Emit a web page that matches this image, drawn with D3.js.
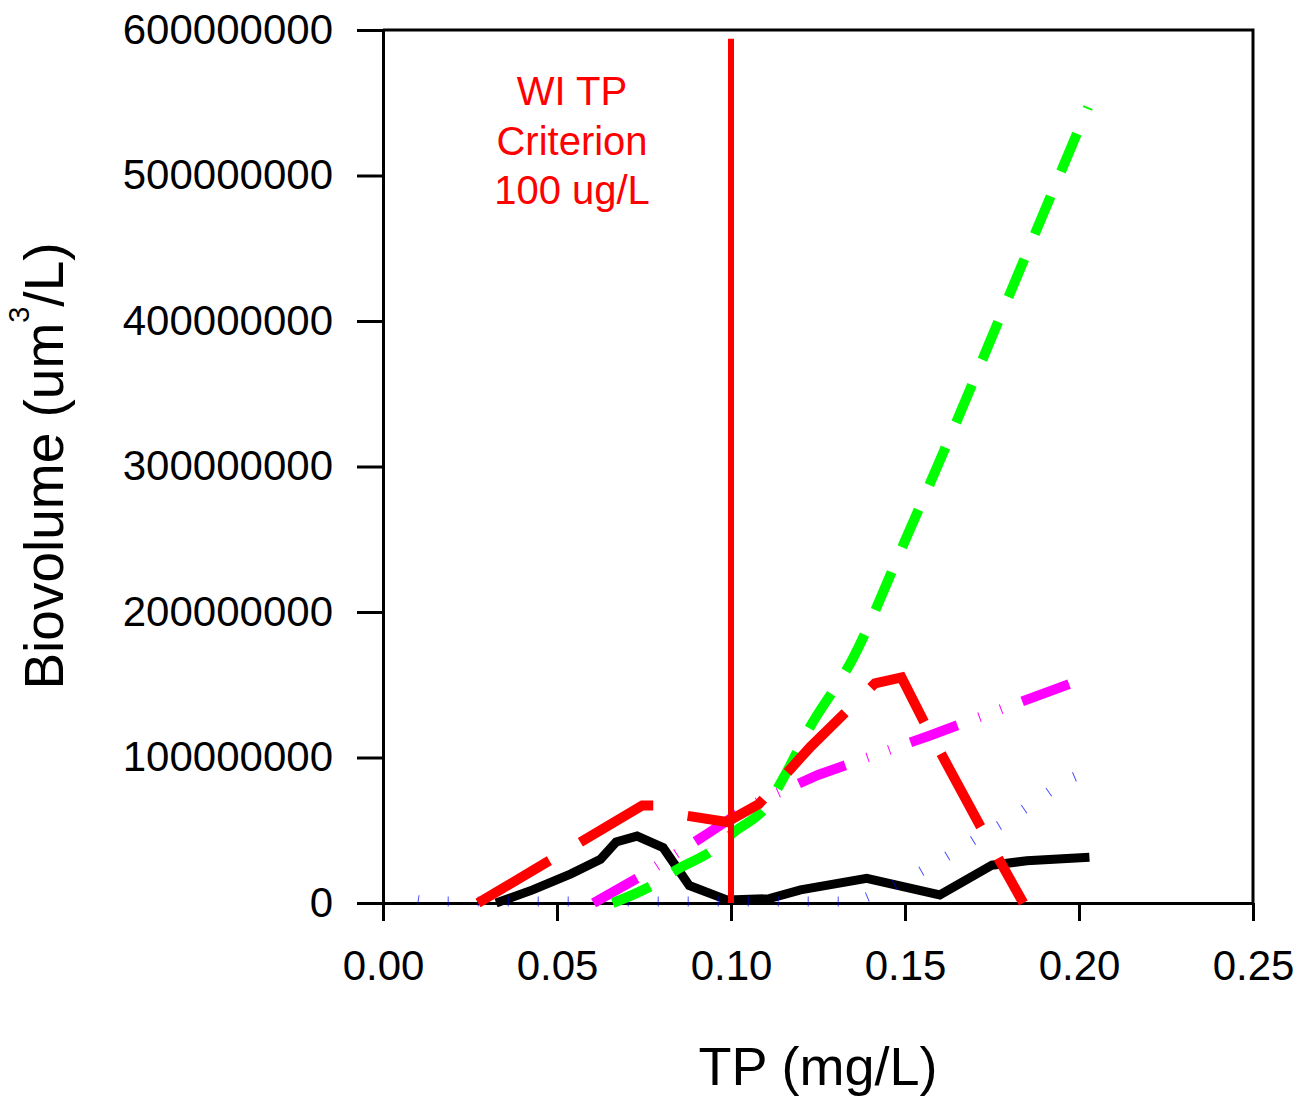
<!DOCTYPE html>
<html>
<head>
<meta charset="utf-8">
<script src="https://cdn.jsdelivr.net/npm/d3@7"></script>
<style>
  body { margin: 0; background: #fff; }
  svg { display: block; font-family: Arial, "Liberation Sans", sans-serif; }
</style>
</head>
<body>
<svg width="1299" height="1101"></svg>
<script>
// data (TP in mg/L, biovolume in um3/L)
const blackTP  = [0.0325, 0.043, 0.054, 0.0625, 0.067, 0.073, 0.0805, 0.088, 0.099, 0.111, 0.12, 0.139, 0.160, 0.175, 0.185, 0.203];
const blackBV  = [0, 9e6, 20e6, 30e6, 42e6, 46e6, 38e6, 12e6, 2e6, 3e6, 9e6, 17e6, 5.5e6, 26e6, 29e6, 31.5e6];

const blueTP   = [0.010, 0.013, 0.136, 0.145, 0.154, 0.162, 0.171, 0.179, 0.187, 0.196, 0.202];
const blueBV   = [2e6, 1e6, 1e6, 10e6, 21e6, 32e6, 45e6, 56e6, 69e6, 84e6, 90e6];

const magentaTP = [0.0605, 0.0745, 0.0935, 0.1055, 0.125, 0.157, 0.2023];
const magentaBV = [0, 19e6, 48e6, 67e6, 88e6, 115e6, 155e6];

const greenTP  = [0.066, 0.078, 0.0845, 0.0945, 0.101, 0.110, 0.116, 0.122, 0.135, 0.15, 0.165, 0.18, 0.2026];
const greenBV  = [0, 13e6, 23e6, 36e6, 49e6, 66e6, 90e6, 118e6, 168e6, 249e6, 332e6, 418e6, 547e6];

const redTP    = [0.0273, 0.0745, 0.078, 0.0873, 0.0988, 0.108, 0.1227, 0.1414, 0.149, 0.156, 0.1716, 0.184];
const redBV    = [0, 67e6, 67e6, 60e6, 55.7e6, 68e6, 107e6, 151e6, 155e6, 122e6, 53e6, 0];

const criterionTP = 0.10;
const criterionTop = 594e6;
const criterionText = ['WI TP', 'Criterion', '100 ug/L'];

const xTicks = [0, 0.05, 0.10, 0.15, 0.20, 0.25];
const yTicks = [0, 1e8, 2e8, 3e8, 4e8, 5e8, 6e8];

const svg = d3.select('svg');
const margin = { top: 30, left: 383 };
const innerWidth = 870, innerHeight = 873;

const x = d3.scaleLinear().domain([0, 0.25]).range([0, innerWidth]);
const y = d3.scaleLinear().domain([0, 6e8]).range([innerHeight, 0]);

const g = svg.append('g').attr('transform', `translate(${margin.left},${margin.top})`);

// axes
const yAxis = g.append('g')
    .call(d3.axisLeft(y).tickValues(yTicks).tickFormat(d3.format('d')).tickSize(26).tickSizeOuter(0).tickPadding(24));
const xAxis = g.append('g')
    .attr('transform', `translate(0,${innerHeight})`)
    .call(d3.axisBottom(x).tickValues(xTicks).tickFormat(d3.format('.2f')).tickSize(18).tickSizeOuter(0).tickPadding(29));

[xAxis, yAxis].forEach(a => {
    a.selectAll('path, line').attr('stroke', '#000').attr('stroke-width', 3);
    a.selectAll('text').attr('fill', '#000').style('font-size', '42px')
        .style('font-family', 'Arial, "Liberation Sans", sans-serif');
});

// top and right frame
g.append('path')
    .attr('d', `M0,0H${innerWidth}V${innerHeight}`)
    .attr('fill', 'none').attr('stroke', '#000').attr('stroke-width', 3);

const zip = (a, b) => a.map((v, i) => [v, b[i]]);

const series = [
    { tp: blackTP,   bv: blackBV,   color: '#000000', width: 9,  dash: null,              opacity: 1,   curve: d3.curveLinear },
    { tp: blueTP,    bv: blueBV,    color: '#0000ff', width: 10, dash: '1,29',            opacity: 0.7, curve: d3.curveLinear },
    { tp: magentaTP, bv: magentaBV, color: '#ff00ff', width: 10, dash: '50,23,1,22,1,22', opacity: 1,   curve: d3.curveLinear },
    { tp: greenTP,   bv: greenBV,   color: '#00ff00', width: 10, dash: '41,27',           opacity: 1,   curve: d3.curveMonotoneX },
    { tp: redTP,     bv: redBV,     color: '#ff0000', width: 10, dash: '83,36',           opacity: 1,   curve: d3.curveLinear }
];

series.forEach(s => {
    const line = d3.line().x(d => x(d[0])).y(d => y(d[1])).curve(s.curve);
    g.append('path')
        .datum(zip(s.tp, s.bv))
        .attr('d', line)
        .attr('fill', 'none')
        .attr('stroke', s.color)
        .attr('stroke-width', s.width)
        .attr('stroke-opacity', s.opacity)
        .attr('stroke-dasharray', s.dash)
        .attr('stroke-linejoin', 'miter');
});

// criterion line
g.append('line')
    .attr('x1', x(criterionTP)).attr('x2', x(criterionTP))
    .attr('y1', y(0)).attr('y2', y(criterionTop))
    .attr('stroke', '#ff0000').attr('stroke-width', 6);

g.append('text')
    .attr('fill', '#ff0000')
    .style('font-size', '40px')
    .attr('text-anchor', 'middle')
    .selectAll('tspan').data(criterionText).enter().append('tspan')
        .attr('x', 189)
        .attr('y', (d, i) => 75 + i * 49.5)
        .text(d => d);

// axis titles
svg.append('text')
    .attr('x', 818).attr('y', 1085)
    .attr('text-anchor', 'middle')
    .style('font-size', '54px')
    .text('TP (mg/L)');

const yt = svg.append('text')
    .attr('transform', 'translate(63,466) rotate(-90)')
    .attr('text-anchor', 'middle')
    .style('font-size', '55px');
yt.append('tspan').text('Biovolume (um');
yt.append('tspan').attr('dy', -34).style('font-size', '29px').text('3');
yt.append('tspan').attr('dy', 34).text('/L)');
</script>
</body>
</html>
